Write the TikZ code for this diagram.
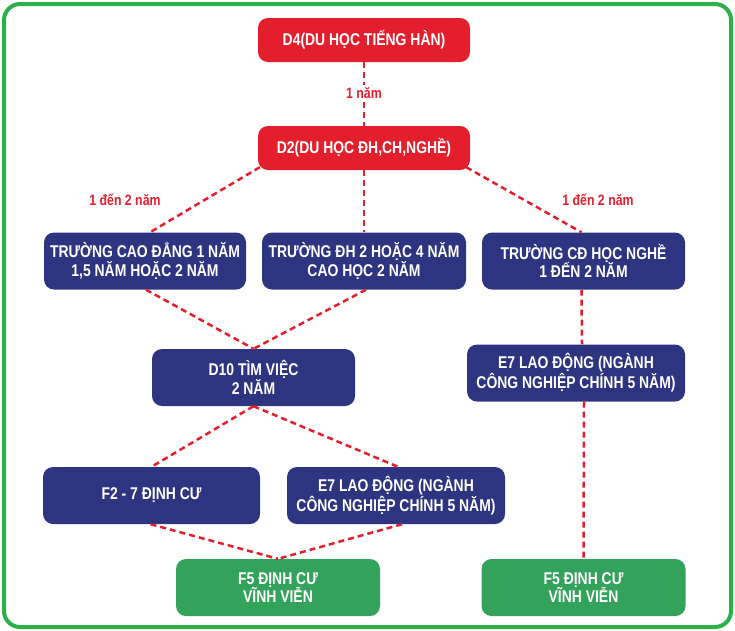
\documentclass[tikz,border=0pt]{standalone}
\usepackage{fontspec}
\setmainfont{Liberation Sans}[FakeStretch=0.82]
\usetikzlibrary{calc}
\definecolor{cred}{HTML}{E31F2E}
\definecolor{cnavy}{HTML}{2E3580}
\definecolor{cgreen}{HTML}{33A25A}
\definecolor{cborder}{HTML}{2BB04A}
\tikzset{
  box/.style={rounded corners=10pt, text=white, font=\bfseries\fontsize{17}{18.5}\selectfont,
    align=center, inner sep=0pt, minimum height=57pt},
  redbox/.style={box, fill=cred, minimum width=212pt, minimum height=44pt},
  navybox/.style={box, fill=cnavy},
  greenbox/.style={box, fill=cgreen, minimum width=204pt},
  link/.style={draw=cred, line width=2.5pt, dash pattern=on 6pt off 4pt},
  lbl/.style={text=cred, font=\bfseries\fontsize{15}{16}\selectfont, inner sep=2pt},
}
\begin{document}
\begin{tikzpicture}[x=1pt,y=-1pt]
\useasboundingbox (0,0) rectangle (735,630);
\draw[cborder, line width=4pt, rounded corners=16pt] (4,4) rectangle (731,627);

\node[redbox] (d4) at (364,40) {D4(DU HỌC TIẾNG HÀN)};
\node[redbox] (d2) at (364,148) {D2(DU HỌC ĐH,CH,NGHỀ)};

\node[navybox, minimum width=202pt] (b1) at (145,261) {TRƯỜNG CAO ĐẲNG 1 NĂM\\1,5 NĂM HOẶC 2 NĂM};
\node[navybox, minimum width=204pt] (b2) at (364,261) {TRƯỜNG ĐH 2 HOẶC 4 NĂM\\CAO HỌC 2 NĂM};
\node[navybox, minimum width=203pt] (b3) at (583.5,261) {TRƯỜNG CĐ HỌC NGHỀ\\1 ĐẾN 2 NĂM};

\node[navybox, minimum width=203pt] (d10) at (253.5,377.5) {D10 TÌM VIỆC\\2 NĂM};
\node[navybox, minimum width=218pt] (e7r) at (576,373) {E7 LAO ĐỘNG (NGÀNH\\CÔNG NGHIỆP CHÍNH 5 NĂM)};

\node[navybox, minimum width=217pt] (f2) at (151.5,495.5) {F2 - 7 ĐỊNH CƯ};
\node[navybox, minimum width=218pt] (e7m) at (396,495.5) {E7 LAO ĐỘNG (NGÀNH\\CÔNG NGHIỆP CHÍNH 5 NĂM)};

\node[greenbox] (f5a) at (278,587.5) {F5 ĐỊNH CƯ\\VĨNH VIỄN};
\node[greenbox] (f5b) at (583.5,587.5) {F5 ĐỊNH CƯ\\VĨNH VIỄN};

% connectors
\path[link] (d4.south) -- (d2.north);
\node[lbl, fill=white] (l1) at (364,93) {1 năm};
\path[link] ([xshift=2pt,yshift=3pt]d2.south west) -- ([xshift=5pt]b1.north);
\path[link] (d2.south) -- (b2.north);
\path[link] ([xshift=-4pt,yshift=3pt]d2.south east) -- ([xshift=-2pt]b3.north);
\node[lbl] (l2) at (125,200) {1 đến 2 năm};
\node[lbl] (l3) at (598,200) {1 đến 2 năm};

\path[link] ([xshift=1pt]b1.south) -- (d10.north);
\path[link] ([xshift=2pt]b2.south) -- (d10.north);
\path[link] ([xshift=-2pt]b3.south) -- ([xshift=6pt]e7r.north);
\path[link] ([xshift=8pt]e7r.south) -- (f5b.north);

\path[link] (d10.south) -- (f2.north);
\path[link] (d10.south) -- ([xshift=2pt]e7m.north);
\path[link] ([xshift=-1pt]f2.south) -- (f5a.north);
\path[link] ([xshift=6pt]e7m.south) -- (f5a.north);
\end{tikzpicture}
\end{document}
